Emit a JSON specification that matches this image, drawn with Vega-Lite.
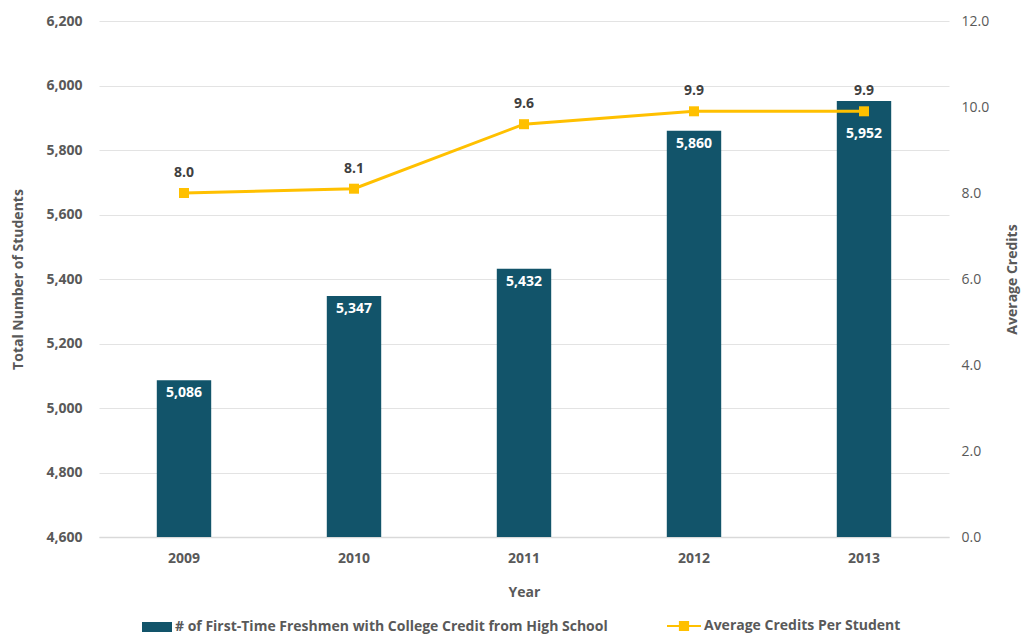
{
  "$schema": "https://vega.github.io/schema/vega-lite/v6.json",
  "autosize": "none",
  "width": 850,
  "height": 516,
  "padding": {"left": 99, "top": 21, "right": 73, "bottom": 98},
  "background": "white",
  "config": {
    "font": "Open Sans",
    "view": {"stroke": null},
    "axis": {"labelColor": "#595959", "titleColor": "#595959", "labelFontSize": 14, "titleFontSize": 14, "titleFontWeight": "bold", "ticks": false, "domain": false, "gridColor": "#E3E3E3"},
    "legend": {"labelFont": "Open Sans", "labelFontSize": 14, "labelFontWeight": "bold", "labelColor": "#595959", "labelLimit": 600}
  },
  "data": {
    "values": [
      {"year": "2009", "students": 5086, "credits": 8.0},
      {"year": "2010", "students": 5347, "credits": 8.1},
      {"year": "2011", "students": 5432, "credits": 9.6},
      {"year": "2012", "students": 5860, "credits": 9.9},
      {"year": "2013", "students": 5952, "credits": 9.9}
    ]
  },
  "encoding": {
    "x": {
      "field": "year", "type": "ordinal", "title": "Year",
      "scale": {"paddingInner": 0.68, "paddingOuter": 0.34},
      "axis": {"labelAngle": 0, "labelFontWeight": "bold", "labelPadding": 14, "titlePadding": 20, "domain": true, "domainColor": "#D9D9D9", "domainWidth": 1.5}
    }
  },
  "layer": [
    {
      "layer": [
        {
          "mark": {"type": "bar", "clip": true},
          "encoding": {
            "y": {"field": "students", "type": "quantitative", "title": "Total Number of Students",
              "scale": {"domain": [4600, 6200], "nice": false, "zero": false},
              "axis": {"values": [4600, 4800, 5000, 5200, 5400, 5600, 5800, 6000, 6200], "format": ",.0f", "labelFontWeight": "bold", "labelPadding": 17, "titlePadding": 20, "grid": true}},
            "fill": {"datum": "# of First-Time Freshmen with College Credit from High School", "type": "nominal",
              "scale": {"range": ["#12546A"]},
              "legend": {"orient": "none", "legendX": 43, "legendY": 591, "title": null, "symbolType": "M-1,-0.333H1V0.333H-1Z", "symbolSize": 900, "symbolStrokeWidth": 0, "labelOffset": 3}}
          }
        },
        {
          "transform": [{"filter": "datum.year != '2013'"}],
          "mark": {"type": "text", "color": "white", "fontWeight": "bold", "fontSize": 14, "baseline": "middle", "dy": 13},
          "encoding": {
            "y": {"field": "students", "type": "quantitative"},
            "text": {"field": "students", "type": "quantitative", "format": ",.0f"}
          }
        },
        {
          "transform": [{"filter": "datum.year == '2013'"}],
          "mark": {"type": "text", "color": "white", "fontWeight": "bold", "fontSize": 14, "baseline": "middle", "dy": 33},
          "encoding": {
            "y": {"field": "students", "type": "quantitative"},
            "text": {"field": "students", "type": "quantitative", "format": ",.0f"}
          }
        }
      ]
    },
    {
      "layer": [
        {
          "mark": {"type": "line", "strokeWidth": 3, "point": {"shape": "square", "filled": true, "size": 100, "opacity": 1}},
          "encoding": {
            "y": {"field": "credits", "type": "quantitative", "title": "Average Credits",
              "scale": {"domain": [0, 12], "nice": false},
              "axis": {"orient": "right", "values": [0, 2, 4, 6, 8, 10, 12], "format": ".1f", "labelPadding": 12, "titleAngle": 270, "titlePadding": 31, "grid": false}},
            "color": {"datum": "Average Credits Per Student", "type": "nominal",
              "scale": {"range": ["#FFC000"]},
              "legend": {"orient": "none", "legendX": 568, "legendY": 588, "title": null, "symbolType": "M-1,-0.06H1V0.06H-1Z M-0.3,-0.3H0.3V0.3H-0.3Z", "symbolSize": 1156, "symbolStrokeWidth": 0, "labelOffset": 3,
                "encode": {"symbols": {"update": {"fill": {"value": "#FFC000"}, "strokeWidth": {"value": 0}, "opacity": {"value": 1}}}}
              }
            }
          }
        },
        {
          "mark": {"type": "text", "color": "#404040", "fontWeight": "bold", "fontSize": 14, "baseline": "middle", "dy": -20},
          "encoding": {
            "y": {"field": "credits", "type": "quantitative"},
            "text": {"field": "credits", "type": "quantitative", "format": ".1f"}
          }
        }
      ]
    }
  ],
  "resolve": {"scale": {"y": "independent"}}
}
